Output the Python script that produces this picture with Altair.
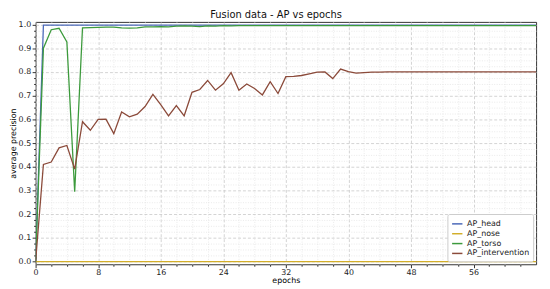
import altair as alt
import pandas as pd

epochs = list(range(65))
series_names = ["AP_head", "AP_nose", "AP_torso", "AP_intervention"]
series_colors = ["#4a68b8", "#d2ae2a", "#3c9a3c", "#8b4a3a"]

ap_head = [0.0, 0.997] + [0.997] * 63
ap_nose = [0.0] * 65
ap_torso = [0.0, 0.90, 0.978, 0.984, 0.926, 0.295, 0.986, 0.987, 0.988, 0.989,
            0.989, 0.986, 0.985, 0.986, 0.990, 0.990, 0.991, 0.990, 0.993, 0.994,
            0.993, 0.991, 0.994, 0.993, 0.995, 0.994] + [0.995] * 39
ap_intervention = [0.0, 0.41, 0.42, 0.48, 0.49, 0.39, 0.59, 0.554, 0.600, 0.601,
                   0.540, 0.631, 0.611, 0.622, 0.654, 0.705, 0.662, 0.615, 0.658, 0.615,
                   0.714, 0.726, 0.764, 0.723, 0.750, 0.797, 0.723, 0.749, 0.730, 0.703,
                   0.759, 0.709, 0.780, 0.781, 0.785, 0.792, 0.799, 0.800, 0.772, 0.812,
                   0.801, 0.795, 0.797, 0.799, 0.799] + [0.800] * 20

x_ticks = list(range(0, 64, 2))
y_ticks = [round(i * 0.025, 3) for i in range(41)]

rows = []
for name, vals in zip(series_names, [ap_head, ap_nose, ap_torso, ap_intervention]):
    for e, v in zip(epochs, vals):
        rows.append({"epoch": e, "value": v, "series": name})
df = pd.DataFrame(rows)

x_major = "datum.value % 8 === 0"
y_major = "abs(datum.value * 10 - round(datum.value * 10)) < 0.001"

x_axis = alt.Axis(
    values=x_ticks,
    labelExpr=f"{x_major} ? datum.label : ''",
    title="epochs",
    titleFontWeight="normal",
    titleFontSize=8,
    titlePadding=0,
    labelFontSize=8,
    labelPadding=1,
    labelColor="#222",
    labelFlush=False,
    domain=False,
    grid=True,
    gridColor={"condition": {"test": x_major, "value": "#c8c8c8"}, "value": "#e4e4e4"},
    gridDash={"condition": {"test": x_major, "value": [3, 2]}, "value": [1, 1.5]},
    gridWidth=0.8,
    tickColor="#333",
    tickSize={"condition": {"test": x_major, "value": 3.5}, "value": 2},
)

y_axis = alt.Axis(
    values=y_ticks,
    labelExpr=f"{y_major} ? format(datum.value, '.1f') : ''",
    title="average precision",
    titleFontWeight="normal",
    titleFontSize=8,
    titlePadding=1,
    labelFontSize=8,
    labelPadding=1.5,
    labelColor="#222",
    domain=False,
    grid=True,
    gridColor={"condition": {"test": y_major, "value": "#c8c8c8"}, "value": "#e4e4e4"},
    gridDash={"condition": {"test": y_major, "value": [3, 2]}, "value": [1, 1.5]},
    gridWidth=0.8,
    tickColor="#333",
    tickSize={"condition": {"test": y_major, "value": 3.5}, "value": 2},
)

chart = alt.Chart(df).mark_line(strokeWidth=1.3, clip=True).encode(
    x=alt.X("epoch:Q", scale=alt.Scale(domain=[0, 64], nice=False, zero=False), axis=x_axis),
    y=alt.Y("value:Q", scale=alt.Scale(domain=[-0.011, 1.011], nice=False, zero=False), axis=y_axis),
    color=alt.Color(
        "series:N",
        sort=series_names,
        scale=alt.Scale(domain=series_names, range=series_colors),
        legend=alt.Legend(
            title=None,
            orient="bottom-right",
            offset=3,
            padding=4,
            rowPadding=0,
            symbolType="stroke",
            symbolSize=110,
            symbolStrokeWidth=1.5,
            labelFontSize=8,
            labelColor="#222",
            strokeColor="#cccccc",
            fillColor="white",
            cornerRadius=2,
        ),
    ),
).properties(
    width=508,
    height=246,
    title=alt.TitleParams("Fusion data - AP vs epochs", fontSize=10, fontWeight="normal",
                          offset=1, dx=-10, color="#111"),
    autosize=alt.AutoSizeParams(type="none"),
    padding={"left": 28, "top": 12, "right": 6, "bottom": 23},
).configure(
    font="DejaVu Sans",
).configure_view(
    stroke="#333", strokeWidth=1
)

chart.save("out.html", embed_options={"renderer": "svg", "actions": False})
